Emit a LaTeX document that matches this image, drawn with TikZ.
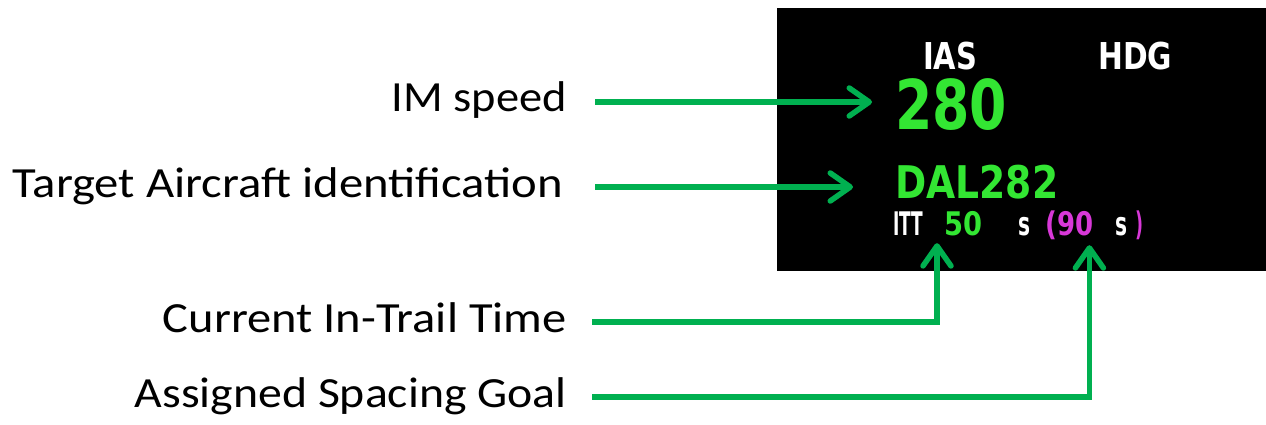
\documentclass[tikz,border=0pt]{standalone}
\usepackage{fontspec}
\setmainfont{Carlito}
\newfontfamily\dispfont{DejaVu Sans}
\usetikzlibrary{arrows.meta}
\definecolor{arrowgreen}{HTML}{00B050}
\definecolor{dispgreen}{HTML}{33E633}
\definecolor{dispmagenta}{HTML}{D838D8}
% squeeze or stretch a text horizontally to a given width, keeping its height
\newcommand\hfit[2]{\resizebox{#1}{\height}{#2}}
\begin{document}
\begin{tikzpicture}[x=1pt,y=-1pt,
  legendtext/.style={inner sep=0pt, text height=20pt, text depth=0pt,
    anchor=base east, font=\fontsize{43}{43}\selectfont},
  disp/.style={inner sep=0pt, anchor=base west, text depth=0pt},
  pointer/.style={draw=arrowgreen, line width=5.5pt,
    -{Straight Barb[length=20pt,width=28pt,round]}}]
\useasboundingbox (0,0) rectangle (1266,425);

% display screen
\fill[black] (777,8) rectangle (1266,271);

% display readouts
\node[disp, white, font=\dispfont\bfseries\fontsize{37}{37}\selectfont] (ias) at (923,70) {\hfit{54pt}{IAS}};
\node[disp, white, font=\dispfont\bfseries\fontsize{37}{37}\selectfont] (hdg) at (1098,70) {\hfit{74pt}{HDG}};
\node[disp, dispgreen, font=\dispfont\bfseries\fontsize{68.6}{68.6}\selectfont] (spd) at (895,130) {\hfit{112pt}{280}};
\node[disp, dispgreen, font=\dispfont\bfseries\fontsize{45}{45}\selectfont] (dal) at (895,198) {\hfit{163pt}{DAL282}};
\node[disp, white, font=\dispfont\bfseries\fontsize{32.5}{32.5}\selectfont] (itt) at (893,235) {\hfit{30pt}{ITT}};
\node[disp, dispgreen, font=\dispfont\bfseries\fontsize{32.5}{32.5}\selectfont] (itt50) at (944,235) {\hfit{38pt}{50}};
\node[disp, white, font=\dispfont\bfseries\fontsize{32.5}{32.5}\selectfont] (unitA) at (1018,235) {\hfit{12pt}{s}};
\node[disp, dispmagenta, font=\dispfont\bfseries\fontsize{32.5}{32.5}\selectfont] (goal90) at (1045,235) {\hfit{48pt}{(90}};
\node[disp, white, font=\dispfont\bfseries\fontsize{32.5}{32.5}\selectfont] (unitB) at (1115,235) {\hfit{12pt}{s}};
\node[disp, dispmagenta, font=\dispfont\bfseries\fontsize{32.5}{32.5}\selectfont] (rpar) at (1135,235) {\hfit{8pt}{)}};

% legend
\node[legendtext] (imlab) at (567,112) {\hfit{175pt}{IM speed}};
\node[legendtext] (tgtlab) at (563,197) {\hfit{550pt}{Target Aircraft identification}};
\node[legendtext] (curlab) at (567,332) {\hfit{404pt}{Current In-Trail Time}};
\node[legendtext] (asglab) at (567,407) {\hfit{432pt}{Assigned Spacing Goal}};

% pointers
\draw[pointer, shorten <=28pt, shorten >=23pt] (imlab.east) -- (imlab.east -| spd.west);
\draw[pointer, shorten <=32pt, shorten >=42pt] (tgtlab.east) -- (tgtlab.east -| dal.west);
\draw[pointer, shorten <=25pt, shorten >=8pt] (curlab.east) -| ([xshift=-7pt]itt50.south west);
\draw[pointer, shorten <=25pt, shorten >=10pt] (asglab.east) -| ([xshift=-4pt]goal90.south east);
\end{tikzpicture}
\end{document}
